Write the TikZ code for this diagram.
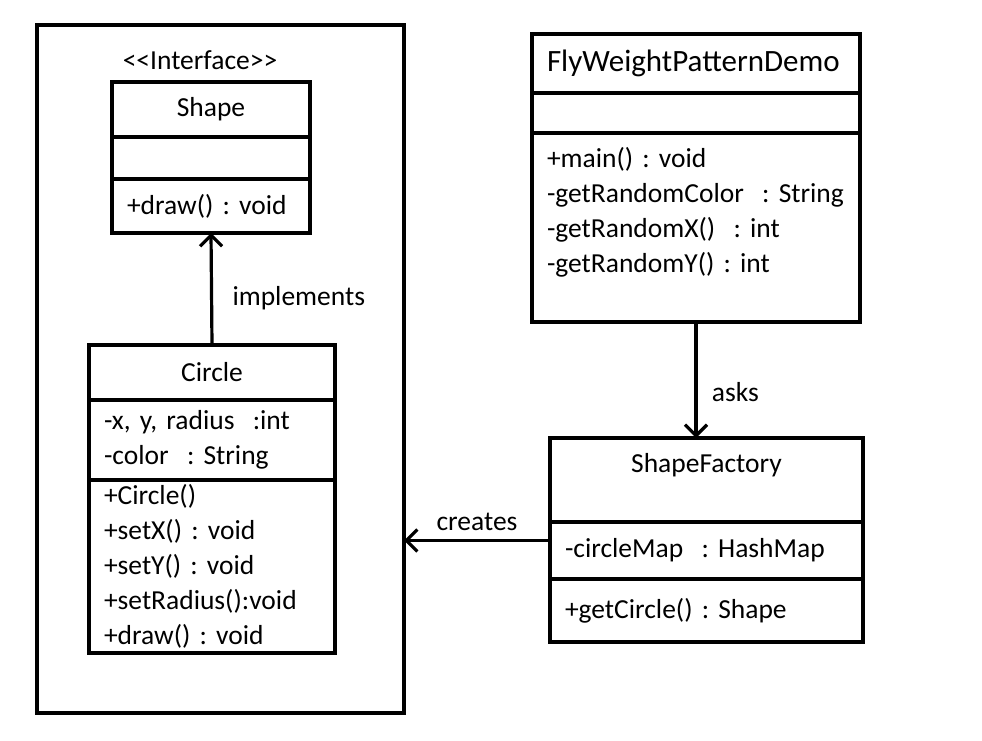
\documentclass[tikz,border=0pt]{standalone}
\usepackage{fontspec}
\setmainfont{Carlito}
\usetikzlibrary{positioning, arrows.meta}

\begin{document}
\begin{tikzpicture}[x=1pt, y=1pt, font=\fontsize{27.5}{35}\selectfont,
    box/.style={draw, line width=3.2pt, outer sep=0pt, inner ysep=1pt},
    head/.style={box, text width=#1, inner xsep=15pt, align=center},
    part/.style={box, text width=#1, inner xsep=15pt, align=left,
        execute at begin node={\exhyphenpenalty=10000 \hyphenpenalty=10000}},
    arr/.style={line width=3.2pt, -{Straight Barb[length=11pt, width=22pt]}},
    node distance=0pt]
\useasboundingbox (0,0) rectangle (982,740);

% Outer frame round the shapes
\node[box, minimum width=367pt, minimum height=688pt] (pkg) at (220.5,371) {};

% Shape interface
\node[head=168pt, minimum height=55pt, anchor=north] (shapeHead) at (211,658) {Shape};
\node[part=168pt, minimum height=42pt, below=of shapeHead] (shapeAttr) {};
\node[part=168pt, minimum height=54pt, below=of shapeAttr] (shapeOps) {+draw()~:~void};
\node[above=9pt of shapeHead, xshift=-11pt] (stereo) {{<}{<}Interface{>}{>}};

% Circle class
\node[head=216pt, minimum height=55pt, anchor=north] (circleHead) at (212,395) {Circle};
\node[part=216pt, minimum height=80pt, below=of circleHead] (circleAttr) {-x,~y,~radius~~:int\\-color~~:~String};
\node[part=216pt, minimum height=173pt, below=of circleAttr] (circleOps) {+Circle()\\+setX()~:~void\\+setY()~:~void\\+setRadius():void\\+draw()~:~void};

% Demo class
\node[part=298pt, minimum height=59pt, anchor=north, font=\fontsize{31}{35}\selectfont] (demoHead) at (696,706) {FlyWeightPatternDemo};
\node[part=298pt, minimum height=40pt, below=of demoHead] (demoAttr) {};
\node[part=298pt, minimum height=189pt, below=of demoAttr] (demoOps) {+main()~:~void\\\mbox{-getRandomColor~~:~String}\\-getRandomX()~~:~int\\-getRandomY()~:~int\\ \mbox{}};

% Factory class
\node[head=283pt, minimum height=84pt, anchor=north] (sfHead) at (706.5,302) {ShapeFactory\\ \mbox{}};
\node[part=283pt, minimum height=57pt, below=of sfHead] (sfAttr) {-circleMap~~:~HashMap};
\node[part=283pt, minimum height=63pt, below=of sfAttr] (sfOps) {+getCircle()~:~Shape};

% Relations
\draw[arr] (circleHead.north) -- (shapeOps.south) node[pos=0.42, right=16pt] {implements};
\draw[arr] (demoOps.south) -- (demoOps.south |- sfHead.north) node[pos=0.6, right=11pt] {asks};
\draw[arr] ([yshift=10pt]sfAttr.west) -- ([yshift=10pt]sfAttr.west -| pkg.east) node[midway, above=5pt] {creates};
\end{tikzpicture}
\end{document}
